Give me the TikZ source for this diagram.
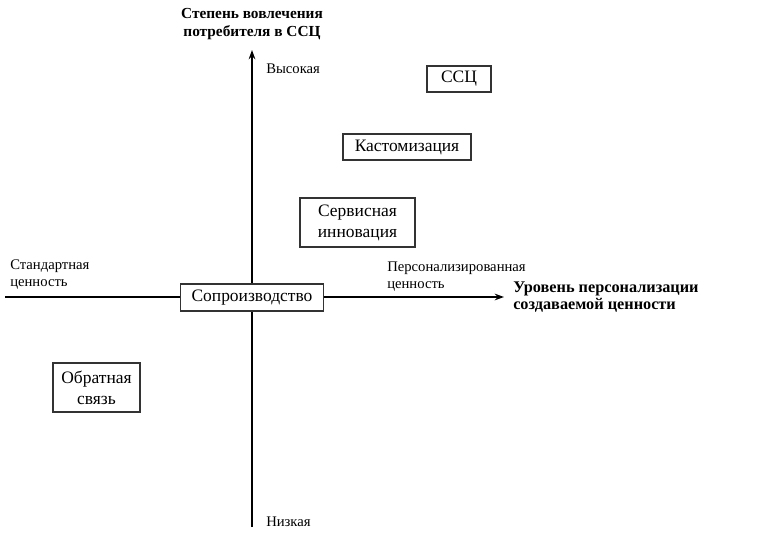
\documentclass[tikz,border=0pt]{standalone}
\usepackage{fontspec}
\setmainfont{Liberation Serif}
\usetikzlibrary{arrows.meta}
\begin{document}
\begin{tikzpicture}[x=0.75pt,y=-0.75pt,
  box/.style={draw=black!80,line width=0.8pt,fill=white,inner sep=0pt,align=center,font=\fontsize{13.1}{15.7}\selectfont},
  lab/.style={inner sep=0pt,align=left,font=\fontsize{11}{12.8}\selectfont},
  ttl/.style={inner sep=0pt,align=center,font=\bfseries\fontsize{11.5}{13.5}\selectfont},
  ttlr/.style={inner sep=0pt,align=left,font=\bfseries\fontsize{12.2}{12.5}\selectfont},
  axis/.style={line width=1.1pt,-{Stealth[length=7pt,width=5pt]}}]
\useasboundingbox (0,0) rectangle (763,541);
\coordinate (vb) at (252,527);
\coordinate (vt) at (252,50);
\coordinate (hl) at (5,297);
\coordinate (hr) at (504,297);
\draw[axis] (vb) -- (vt);
\draw[axis] (hl) -- (hr);
\node[box,minimum width=143pt*0.75,minimum height=27pt*0.75] (cop) at (252,297.5) {Сопроизводство};
\node[box,minimum width=64pt*0.75,minimum height=26pt*0.75] (ssc) at (459,79) {ССЦ};
\node[box,minimum width=128pt*0.75,minimum height=26pt*0.75] (cust) at (407,147) {Кастомизация};
\node[box,minimum width=115pt*0.75,minimum height=49pt*0.75] (serv) at (357.5,222.5) {Сервисная\\инновация};
\node[box,minimum width=87pt*0.75,minimum height=49pt*0.75] (fb) at (96.5,387.5) {Обратная\\связь};
\node[ttl] (t1) at (252,24) {Степень вовлечения\\потребителя в ССЦ};
\node[lab,anchor=west] (hi) at (266,69) {Высокая};
\node[lab,anchor=west] (lo) at (266,522) {Низкая};
\node[lab,anchor=west] (std) at (10,274.5) {Стандартная\\ценность};
\node[lab,anchor=west] (pers) at (387,277) {Персонализированная\\ценность};
\node[ttlr,anchor=west] (t2) at (513,297) {Уровень персонализации\\создаваемой ценности};
\end{tikzpicture}
\end{document}
